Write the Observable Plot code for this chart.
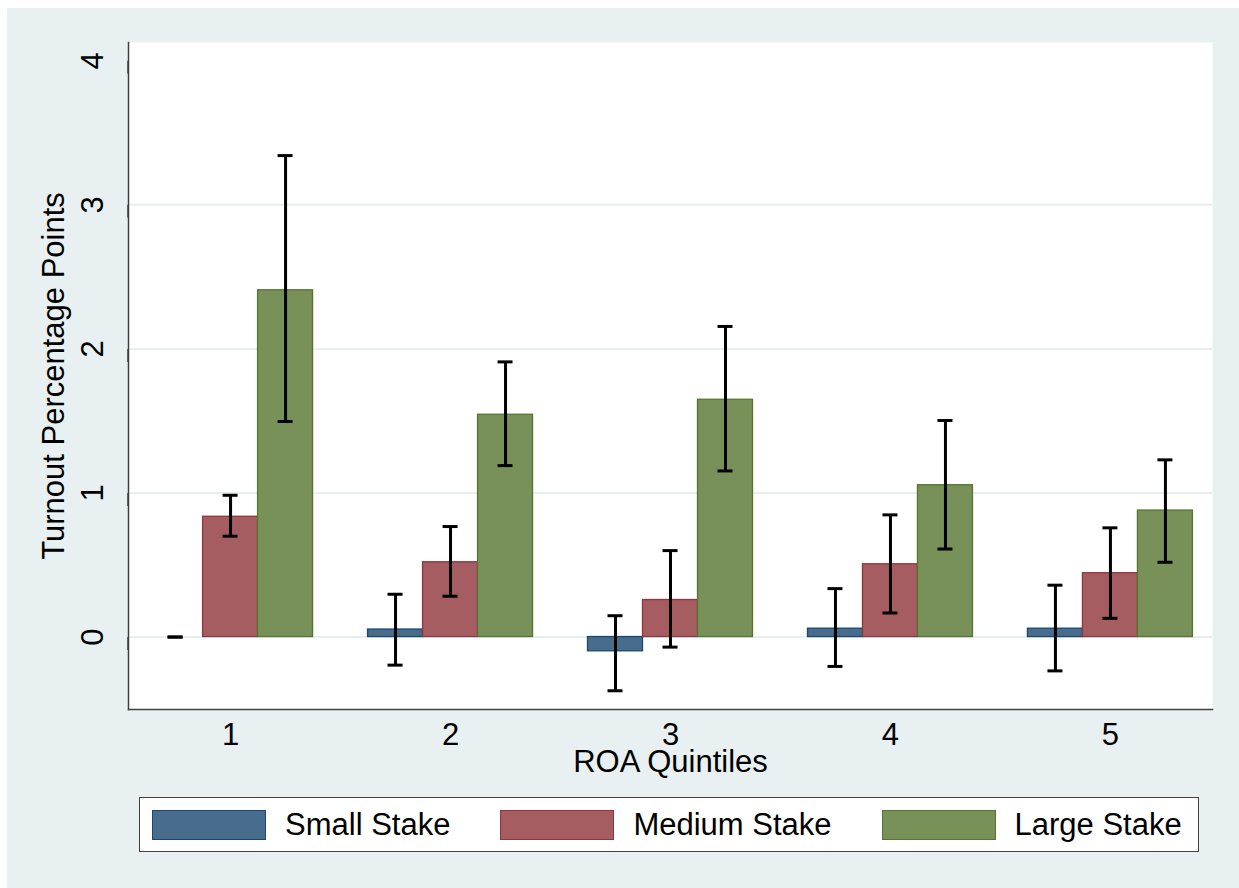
<!DOCTYPE html>
<html>
<head>
<meta charset="utf-8">
<script src="https://cdn.jsdelivr.net/npm/d3@7"></script>
<script src="https://cdn.jsdelivr.net/npm/@observablehq/plot@0.6"></script>
<style>
  html, body { margin: 0; padding: 0; background: #ffffff; }
  #page { position: relative; width: 1239px; height: 888px; background: #ffffff; overflow: hidden;
          font-family: "Liberation Sans", Arial, sans-serif; }
  #bg { position: absolute; left: 7px; top: 8px; right: 0; bottom: 0; background: #e8f0f2; }
  #chart { position: absolute; left: 0; top: 0; }
  #legend { position: absolute; left: 139px; top: 797px; width: 1046px; height: 53px;
            background: #ffffff; border: 1.5px solid #404040; display: flex; align-items: center;
            padding-left: 12px; box-sizing: content-box; }
  .item { display: flex; align-items: center; margin-right: 50px; }
  .sw { width: 112px; height: 28px; border: 1.5px solid; margin-right: 19px; }
  .lab { font-size: 31px; color: #000; white-space: nowrap; }
</style>
</head>
<body>
<div id="page">
  <div id="bg"></div>
  <div id="chart"></div>
  <div id="legend"></div>
</div>
<script>
// ---- data ----
const groups = ["1", "2", "3", "4", "5"];
const seriesNames = ["Small Stake", "Medium Stake", "Large Stake"];

const smallValue  = [0.000, 0.052, -0.099, 0.058, 0.058];
const smallLo     = [0.000, -0.195, -0.373, -0.204, -0.235];
const smallHi     = [0.000, 0.297, 0.148, 0.336, 0.360];

const mediumValue = [0.835, 0.519, 0.257, 0.505, 0.443];
const mediumLo    = [0.700, 0.283, -0.070, 0.167, 0.130];
const mediumHi    = [0.984, 0.767, 0.600, 0.848, 0.758];

const largeValue  = [2.407, 1.543, 1.647, 1.054, 0.878];
const largeLo     = [1.496, 1.190, 1.153, 0.611, 0.519];
const largeHi     = [3.342, 1.910, 2.156, 1.503, 1.230];

const yTicks = [0, 1, 2, 3, 4];
const gridTicks = [0, 1, 2, 3];
const xTitle = "ROA Quintiles";
const yTitle = "Turnout Percentage Points";

// ---- styles ----
const fills   = ["#486c8c", "#a65d62", "#779159"];
const strokes = ["#1a476f", "#90353b", "#55752f"];
const offsets = [-55, 0, 55];
const FONT = 31;

const valueSets = [
  [smallValue, smallLo, smallHi],
  [mediumValue, mediumLo, mediumHi],
  [largeValue, largeLo, largeHi]
];

const tables = valueSets.map(([v, lo, hi], j) =>
  groups.map((g, i) => ({group: g, series: seriesNames[j], value: v[i], lo: lo[i], hi: hi[i]}))
);

const marks = [Plot.frame({fill: "white", stroke: null}),
  Plot.ruleY(gridTicks, {stroke: "#e6eef0", strokeWidth: 2})];

tables.forEach((t, j) => {
  marks.push(Plot.barY(t.filter(d => d.value !== 0), {x: "group", y: "value", fill: fills[j], stroke: strokes[j], strokeWidth: 1.3, dx: offsets[j]}));
});
tables.forEach((t, j) => {
  marks.push(Plot.ruleX(t, {x: "group", y1: "lo", y2: "hi", dx: offsets[j], stroke: "black", strokeWidth: 3}));
  marks.push(Plot.tickY(t, {x: "group", y: "hi", dx: offsets[j], insetLeft: 20, insetRight: 20, stroke: "black", strokeWidth: 3}));
  marks.push(Plot.tickY(t, {x: "group", y: "lo", dx: offsets[j], insetLeft: 20, insetRight: 20, stroke: "black", strokeWidth: 3}));
});

marks.push(
  Plot.axisY(yTicks, {tickSize: 13, tickPadding: 13, rotate: -90, textAnchor: "middle", lineAnchor: "bottom",
                      tickFormat: d3.format("d"), fontSize: FONT, label: null,
                      stroke: "#404040", strokeWidth: 1.5, fill: "black"}),
  Plot.axisX({tickSize: 0, tickPadding: 13, fontSize: FONT, label: null, fill: "black"}),
  Plot.frame({anchor: "left", stroke: "#404040", strokeWidth: 1.5}),
  Plot.frame({anchor: "bottom", stroke: "#404040", strokeWidth: 1.5}),
  Plot.text([yTitle], {frameAnchor: "left", rotate: -90, dx: -74, textAnchor: "middle", lineAnchor: "middle",
                       fontSize: FONT, fill: "black"}),
  Plot.text([xTitle], {frameAnchor: "bottom", dy: 53, textAnchor: "middle", lineAnchor: "middle",
                       fontSize: FONT, fill: "black"})
);

const chart = Plot.plot({
  width: 1239,
  height: 790,
  marginLeft: 128,
  marginRight: 27,
  marginTop: 42,
  marginBottom: 81,
  style: {background: "transparent", fontFamily: "'Liberation Sans', Arial, sans-serif", fontSize: FONT + "px", color: "black"},
  x: {domain: groups, paddingInner: 0.75, paddingOuter: 0.339, round: false, axis: null},
  y: {domain: [-0.503, 4.127], axis: null},
  marks
});
document.getElementById("chart").appendChild(chart);

// ---- legend (below the SVG) ----
const legend = document.getElementById("legend");
seriesNames.forEach((name, j) => {
  const item = document.createElement("div");
  item.className = "item";
  const sw = document.createElement("div");
  sw.className = "sw";
  sw.style.background = fills[j];
  sw.style.borderColor = strokes[j];
  const lab = document.createElement("span");
  lab.className = "lab";
  lab.textContent = name;
  item.appendChild(sw);
  item.appendChild(lab);
  legend.appendChild(item);
});
</script>
</body>
</html>
